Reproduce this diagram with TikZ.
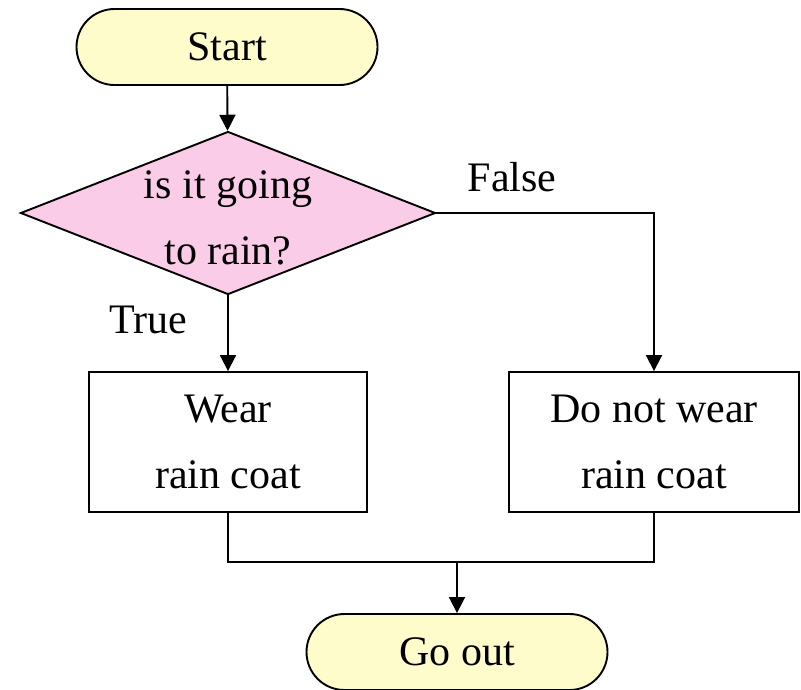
\documentclass[tikz,border=0pt]{standalone}
\usepackage{fontspec}
\setmainfont{Liberation Serif}
\usetikzlibrary{arrows.meta,shapes.geometric,shapes.misc}

\begin{document}
\begin{tikzpicture}[
  x=1pt, y=-1pt,
  font=\fontsize{42}{66}\selectfont,
  terminal/.style={draw, line width=1.9pt, rounded rectangle, fill=yellow!20, minimum width=301pt, minimum height=76pt, inner sep=0pt},
  decision/.style={draw, line width=1.9pt, diamond, fill=magenta!20, minimum width=415pt, minimum height=163pt, inner sep=0pt},
  action/.style={draw, line width=1.9pt, align=center, minimum height=140pt, inner sep=0pt},
  arrow/.style={-{Triangle[length=16pt,width=16pt]}, line width=1.9pt},
  wire/.style={line width=1.9pt}
]
\useasboundingbox (0,0) rectangle (801,689);

\node[terminal] (start) at (227,47) {Start};
\node[decision] (rain) at (228,213) {};
\node[align=center] (rainq) at (228,218) {is it going\\to rain?};
\node[action, minimum width=278pt] (wear) at (228,442) {Wear\\rain coat};
\node[action, minimum width=290pt] (nowear) at (654,442) {Do not wear\\rain coat};
\node[terminal] (goout) at (457,652) {Go out};
\node[anchor=base] (falselbl) at (512,191) {False};
\node[anchor=base] (truelbl) at (148,333) {True};
\coordinate (join) at (457,562);

\draw[arrow] (start) -- (rain);
\draw[arrow] (rain) -- (wear);
\draw[arrow] (rain.east) -| (nowear.north);
\draw[wire] (wear.south) |- (join) -| (nowear.south);
\draw[arrow] (join) -- (goout);
\end{tikzpicture}
\end{document}
